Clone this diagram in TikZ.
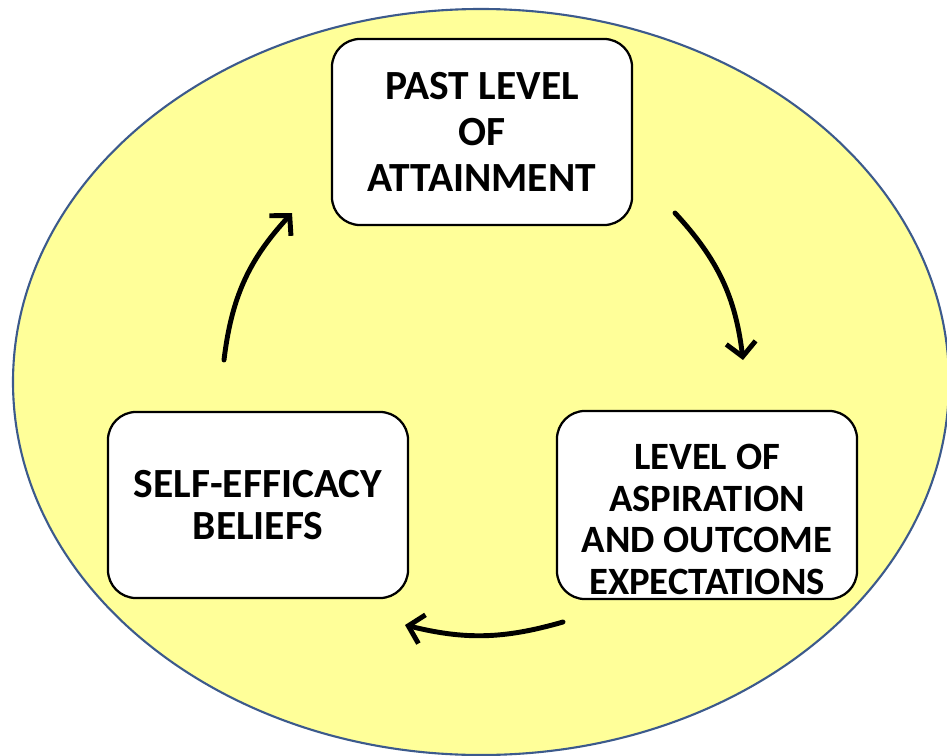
\documentclass[tikz,border=0pt]{standalone}
\usepackage{fontspec}
\setmainfont{Carlito}
\usetikzlibrary{arrows.meta,positioning}

\tikzset{
  stagebox/.style={draw, line width=1.6pt, fill=white, rounded corners=20pt,
    minimum width=7.5cm, minimum height=4.65cm, align=center,
    font=\fontsize{29.5}{30.5}\selectfont\bfseries},
  flow/.style={line width=3.5pt, line cap=round, -{Straight Barb[length=10pt,width=21pt,line width=3.5pt]}}
}

\begin{document}
\begin{tikzpicture}[x=0.025cm, y=-0.025cm]
  \useasboundingbox (0,0) rectangle (947,756);
  % sfondo
  \draw[fill={rgb,255:red,255;green,255;blue,153}, draw={rgb,255:red,60;green,90;blue,140}, line width=1.5pt]
    (481,382) ellipse [x radius=468, y radius=373];

  \node[stagebox] (past) at (482,132) {PAST LEVEL\\[2pt]OF\\[2pt]ATTAINMENT};
  \node[stagebox] (self) at (258,505) {SELF-EFFICACY\\BELIEFS};
  \node[stagebox, font=\fontsize{27.5}{29.5}\selectfont\bfseries] (aspire) at (707,505)
    {\rule{0pt}{1.35cm}LEVEL OF\\ASPIRATION\\AND OUTCOME\\EXPECTATIONS};

  %frecce
  \coordinate (s1) at (224,360);
  \coordinate (e1) at (292,213);
  \coordinate (s2) at (675,213);
  \coordinate (e2) at (743,360);
  \coordinate (s3) at (563,622);
  \coordinate (e3) at (405,625);
  \draw[flow] (s1) to[bend left=18] (e1);
  \draw[flow] (s2) to[bend left=18] (e2);
  \draw[flow] (s3) to[bend left=15] (e3);
\end{tikzpicture}
\end{document}
